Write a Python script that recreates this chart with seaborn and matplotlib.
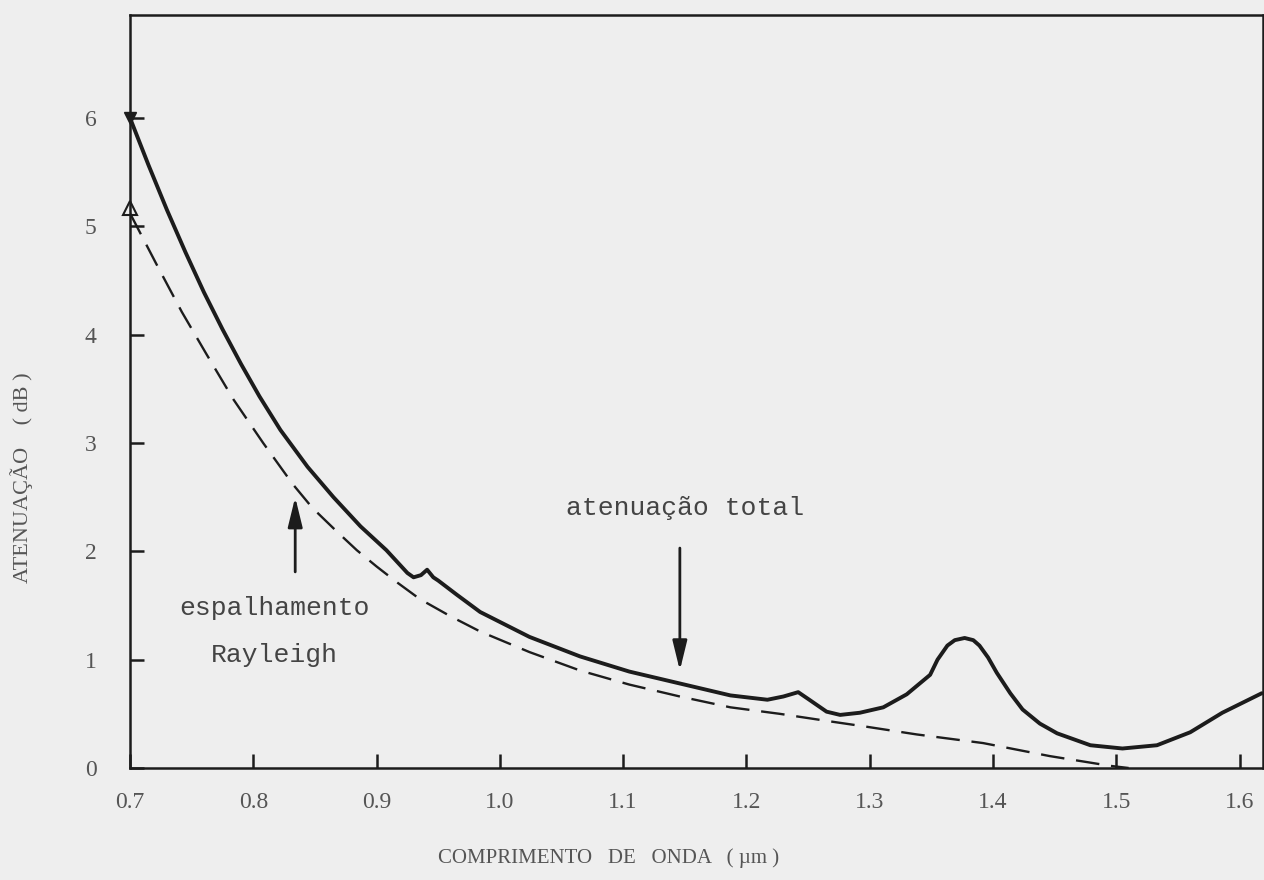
import matplotlib
matplotlib.use("Agg")
import matplotlib.pyplot as plt
import seaborn as sns
import pandas as pd

# ---- data ----
lam_total = [0.700, 0.715, 0.730, 0.745, 0.760, 0.775, 0.790, 0.805, 0.822,
             0.844, 0.865, 0.887, 0.908, 0.925, 0.930, 0.936, 0.941, 0.946,
             0.950, 0.965, 0.984, 1.024, 1.065, 1.105, 1.146, 1.187, 1.217,
             1.230, 1.242, 1.251, 1.265, 1.276, 1.292, 1.311, 1.330, 1.349,
             1.355, 1.363, 1.369, 1.377, 1.384, 1.389, 1.396, 1.403, 1.414,
             1.424, 1.438, 1.452, 1.479, 1.505, 1.533, 1.560, 1.586, 1.618]
att_total = [6.00, 5.565, 5.15, 4.76, 4.39, 4.05, 3.73, 3.43, 3.12,
             2.78, 2.50, 2.23, 2.01, 1.80, 1.76, 1.78, 1.83, 1.76,
             1.73, 1.60, 1.44, 1.21, 1.03, 0.89, 0.78, 0.67, 0.63,
             0.66, 0.70, 0.63, 0.52, 0.49, 0.51, 0.56, 0.68, 0.86,
             1.00, 1.13, 1.18, 1.20, 1.18, 1.13, 1.02, 0.88, 0.69,
             0.54, 0.41, 0.32, 0.21, 0.18, 0.21, 0.33, 0.51, 0.69]

lam_rayleigh = [0.700, 0.721, 0.742, 0.762, 0.784, 0.808, 0.832, 0.848, 0.868,
                0.884, 0.900, 0.917, 0.935, 0.960, 0.984, 1.024, 1.065, 1.105,
                1.146, 1.187, 1.227, 1.268, 1.298, 1.338, 1.392, 1.446, 1.495,
                1.510]
att_rayleigh = [5.12, 4.66, 4.21, 3.82, 3.40, 3.00, 2.62, 2.40, 2.18,
                2.01, 1.86, 1.71, 1.56, 1.40, 1.26, 1.07, 0.90, 0.77,
                0.66, 0.56, 0.50, 0.43, 0.38, 0.31, 0.23, 0.11, 0.02,
                0.00]

x_ticks = [0.7, 0.8, 0.9, 1.0, 1.1, 1.2, 1.3, 1.4, 1.5, 1.6]
x_tick_labels = ["0.7", "0.8", "0.9", "1.0", "1.1", "1.2", "1.3", "1.4", "1.5", "1.6"]
y_ticks = [0, 1, 2, 3, 4, 5, 6]
y_tick_labels = ["0", "1", "2", "3", "4", "5", "6"]

x_label = "COMPRIMENTO   DE   ONDA   ( µm )"
y_label = "ATENUAÇÃO    ( dB )"
label_total = "atenuação total"
label_rayleigh = ["espalhamento", "Rayleigh"]

# ---- styling ----
sns.set_theme(style="white")
plt.rcParams["font.family"] = ["Liberation Serif", "DejaVu Serif"]

BG = "#eeeeee"
INK = "#1c1c1c"
TXT = "#555555"

df_total = pd.DataFrame({"lam": lam_total, "att": att_total})
df_ray = pd.DataFrame({"lam": lam_rayleigh, "att": att_rayleigh})

fig = plt.figure(figsize=(12.64, 8.8), dpi=100, facecolor=BG)
ax = fig.add_axes([130 / 1264, 112 / 880, 1133 / 1264, 753 / 880])
ax.set_facecolor(BG)

sns.lineplot(data=df_total, x="lam", y="att", ax=ax, color=INK, lw=2.8,
             sort=False, estimator=None)
sns.lineplot(data=df_ray, x="lam", y="att", ax=ax, color=INK, lw=1.7,
             sort=False, estimator=None, linestyle=(0, (10, 5)))

# small start marks seen on the curves
ax.plot(df_total["lam"].iloc[0], df_total["att"].iloc[0], marker="v",
        ms=9, color=INK, clip_on=False)
ax.plot(df_ray["lam"].iloc[0], df_ray["att"].iloc[0] + 0.05, marker="^",
        ms=10, mfc="none", mec=INK, mew=1.5, clip_on=False)

ax.set_xlim(0.7, 1.619)
ax.set_ylim(0, 6.95)
ax.set_xticks(x_ticks)
ax.set_xticklabels(x_tick_labels)
ax.set_yticks(y_ticks)
ax.set_yticklabels(y_tick_labels)

ax.tick_params(axis="x", direction="in", length=10, width=1.8, color=INK,
               pad=17, labelsize=17, labelcolor=TXT, bottom=True, top=False)
ax.tick_params(axis="y", direction="in", length=10, width=1.8, color=INK,
               pad=24, labelsize=17, labelcolor=TXT, left=True, right=False)

for s in ax.spines.values():
    s.set_visible(True)
    s.set_color(INK)
    s.set_linewidth(1.8)

ax.set_xlabel(x_label, fontsize=15, color=TXT)
ax.set_ylabel(y_label, fontsize=16, color=TXT)
ax.xaxis.set_label_coords(0.422, -0.106)
ax.yaxis.set_label_coords(-0.086, 0.385)

# annotations
mono = ["Liberation Mono", "DejaVu Sans Mono"]
ax.text(1.150, 2.40, label_total, family=mono, fontsize=19, color="#444444",
        ha="center", va="center")
ax.annotate("", xy=(1.146, 0.90), xytext=(1.146, 2.03),
            arrowprops=dict(arrowstyle="-|>,head_length=0.9,head_width=0.22",
                            lw=2.0, color=INK, mutation_scale=20,
                            shrinkA=0, shrinkB=0))

ax.text(0.817, 1.48, label_rayleigh[0], family=mono, fontsize=19,
        color="#444444", ha="center", va="center")
ax.text(0.817, 1.04, label_rayleigh[1], family=mono, fontsize=19,
        color="#444444", ha="center", va="center")
ax.annotate("", xy=(0.834, 2.50), xytext=(0.834, 1.81),
            arrowprops=dict(arrowstyle="-|>,head_length=0.9,head_width=0.22",
                            lw=2.0, color=INK, mutation_scale=20,
                            shrinkA=0, shrinkB=0))

fig.savefig("out.png", dpi=100, facecolor=BG)
